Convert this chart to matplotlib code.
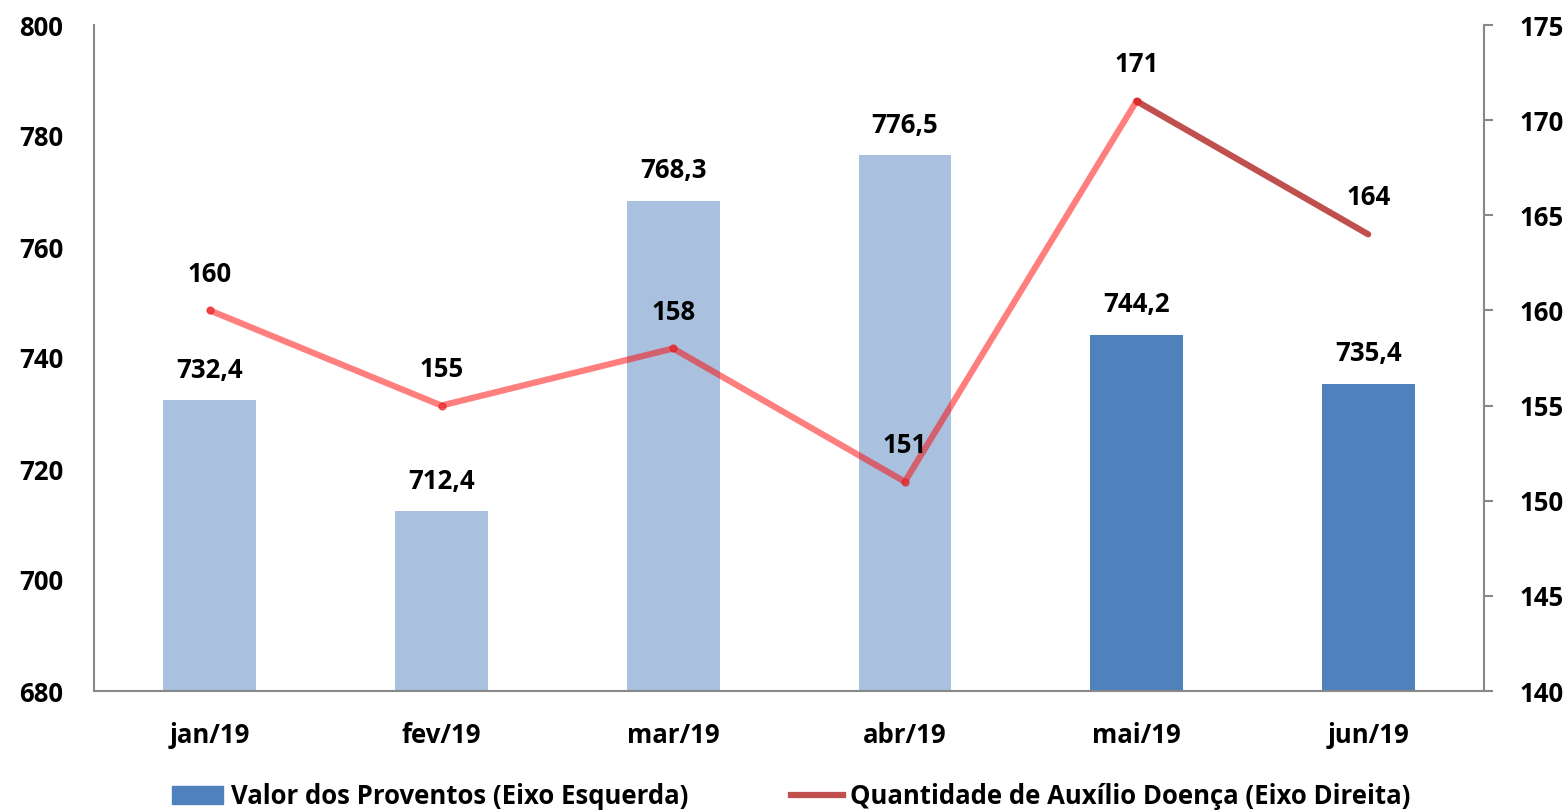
import matplotlib
matplotlib.use("Agg")
import matplotlib.pyplot as plt
from matplotlib.lines import Line2D
from matplotlib.patches import Patch

months = ["jan/19", "fev/19", "mar/19", "abr/19", "mai/19", "jun/19"]
valor = [732.4, 712.4, 768.3, 776.5, 744.2, 735.4]
quantidade = [160, 155, 158, 151, 171, 164]
bar_colors = ["#A9C1DE", "#A9C1DE", "#A9C1DE", "#A9C1DE", "#4F81BD", "#4F81BD"]
left_ticks = [680, 700, 720, 740, 760, 780, 800]
right_ticks = [140, 145, 150, 155, 160, 165, 170, 175]

plt.rcParams['font.family'] = ['Open Sans', 'DejaVu Sans']
plt.rcParams['font.weight'] = 'bold'
FS = 18.5

fig = plt.figure(figsize=(15.67, 8.11), dpi=100)
ax = fig.add_axes([94/1567, 1-691/811, (1484-94)/1567, (691-25)/811])
ax2 = ax.twinx()

x = list(range(len(months)))
ax.bar(x, [v - 680 for v in valor], bottom=680, width=0.4, color=bar_colors, zorder=2)
ax.set_ylim(680, 800)
ax.set_xlim(-0.5, 5.5)
ax.set_yticks(left_ticks)
ax.set_yticklabels([str(t) for t in left_ticks], fontsize=FS, fontweight='bold')
ax.set_xticks(x)
ax.set_xticklabels(months, fontsize=FS, fontweight='bold')
ax.tick_params(axis='y', length=0, pad=22)
ax.tick_params(axis='x', length=0, pad=22)
for s in ['top', 'right']:
    ax.spines[s].set_visible(False)
for s in ['left', 'bottom']:
    ax.spines[s].set_color('#888888')
    ax.spines[s].set_linewidth(1.5)

for xi, v in zip(x, valor):
    ax.text(xi, v + 3.0, f"{v:.1f}".replace('.', ','), ha='center', va='bottom',
            fontsize=FS, fontweight='bold')

ax2.set_ylim(140, 175)
ax2.set_yticks(right_ticks)
ax2.set_yticklabels([str(t) for t in right_ticks], fontsize=FS, fontweight='bold')
ax2.tick_params(axis='y', length=6.5, width=1.5, color='#888888', pad=19)
for s in ['top', 'left', 'bottom']:
    ax2.spines[s].set_visible(False)
ax2.spines['right'].set_color('#888888')
ax2.spines['right'].set_linewidth(1.5)

ax2.plot(x[:5], quantidade[:5], color=(1, 0, 0, 0.5), lw=4.5, solid_capstyle='round',
         solid_joinstyle='round', zorder=3)
ax2.plot(x[:5], quantidade[:5], 'o', color=(0.9, 0.1, 0.1, 0.6), ms=5, zorder=4)
ax2.plot(x[4:], quantidade[4:], color='#C0504D', lw=4.5, solid_capstyle='round', zorder=3)

for xi, q in zip(x, quantidade):
    ax2.text(xi, q + 1.2, str(q), ha='center', va='bottom', fontsize=FS, fontweight='bold')

handles = [Patch(color='#4F81BD'), Line2D([0], [0], color='#C0504D', lw=4.5)]
labels = ["Valor dos Proventos (Eixo Esquerda)", "Quantidade de Auxílio Doença (Eixo Direita)"]
fig.legend(handles, labels, loc='lower center', bbox_to_anchor=(0.505, -0.027), ncol=2,
           frameon=False, columnspacing=4.0, handlelength=2.0, handleheight=0.7,
           handletextpad=0.3, prop={'weight': 'bold', 'size': FS})

fig.savefig("out.png", dpi=100)
